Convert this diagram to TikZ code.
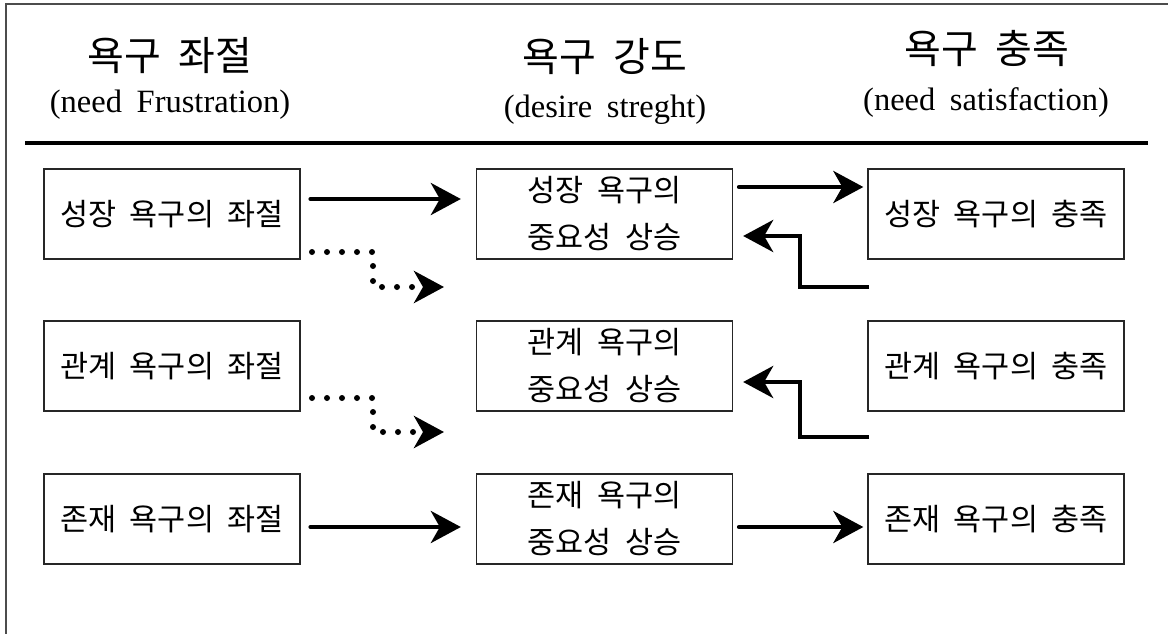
\documentclass[tikz,border=0pt]{standalone}
\usepackage{fontspec}
\setmainfont{Liberation Serif}[WordSpace=1.8]
\newfontfamily\kr{Noto Sans CJK KR}[WordSpace=2]
\usetikzlibrary{arrows.meta,calc}
\begin{document}
\begin{tikzpicture}[x=1pt,y=-1pt,
  box/.style={draw=black!85,line width=1.3pt,minimum width=256pt,minimum height=90pt,inner sep=0pt,
    font=\kr\fontsize{30.5}{47}\selectfont,align=center},
  hkr/.style={font=\kr\fontsize{40}{44}\selectfont,inner sep=0pt},
  hen/.style={font=\fontsize{32.5}{38}\selectfont,inner sep=0pt},
  tip/.style={-{Stealth[length=30pt,width=32pt,inset=9pt]}},
  arr/.style={tip,line width=4.5pt,line cap=round},
  dots/.style={tip,line width=6pt,line cap=round,dash pattern=on 0pt off 15pt},
  back/.style={tip,line width=4.5pt,line join=miter}]
\useasboundingbox (0,0) rectangle (1168,634);
% frame
\draw[black!70,line width=1.5pt] (1168,4) -- (6,4) -- (6,634);
% headers
\node[hkr] (h1) at (170,56) {욕구 좌절};
\node[hen] (e1) at (170,105) {(need Frustration)};
\node[hkr] (h2) at (605,57) {욕구 강도};
\node[hen] (e2) at (605,110) {(desire streght)};
\node[hkr] (h3) at (987,49) {욕구 충족};
\node[hen] (e3) at (986,103) {(need satisfaction)};
\draw[line width=4pt] (25,143) -- (1148,143);
% boxes
\node[box] (L1) at (172,214) {성장 욕구의 좌절};
\node[box] (L2) at (172,366) {관계 욕구의 좌절};
\node[box] (L3) at (172,519) {존재 욕구의 좌절};
\node[box] (M1) at (604.5,214) {성장 욕구의\\중요성 상승};
\node[box] (M2) at (604.5,366) {관계 욕구의\\중요성 상승};
\node[box] (M3) at (604.5,519) {존재 욕구의\\중요성 상승};
\node[box] (R1) at (996,214) {성장 욕구의 충족};
\node[box] (R2) at (996,366) {관계 욕구의 충족};
\node[box] (R3) at (996,519) {존재 욕구의 충족};
% solid arrows
\draw[arr,shorten <=10pt,shorten >=15pt] ([yshift=15pt]L1.east) -- ([yshift=15pt]M1.west);
\draw[arr,shorten <=6pt,shorten >=4pt] ([yshift=27pt]M1.east) -- ([yshift=27pt]R1.west);
\draw[arr,shorten <=10pt,shorten >=15pt] ([yshift=-8pt]L3.east) -- ([yshift=-8pt]M3.west);
\draw[arr,shorten <=6pt,shorten >=4pt] ([yshift=-8pt]M3.east) -- ([yshift=-8pt]R3.west);
% dotted arrows
\coordinate (d1s) at (312,252);
\coordinate (d1e) at (444,287);
\draw[dots] (d1s) -- (373,252) -- (373,287) -- (d1e);
\coordinate (d2s) at (312,398);
\coordinate (d2e) at (444,432);
\draw[dots] (d2s) -- (373,398) -- (373,432) -- (d2e);
% return arrows
\coordinate (b1s) at (869,287);
\draw[back] (b1s) -- (800,287) -- (800,236) -- ([yshift=-22pt,xshift=10pt]M1.east);
\coordinate (b2s) at (869,437);
\draw[back] (b2s) -- (800,437) -- (800,382) -- ([yshift=-16pt,xshift=10pt]M2.east);
\end{tikzpicture}
\end{document}
